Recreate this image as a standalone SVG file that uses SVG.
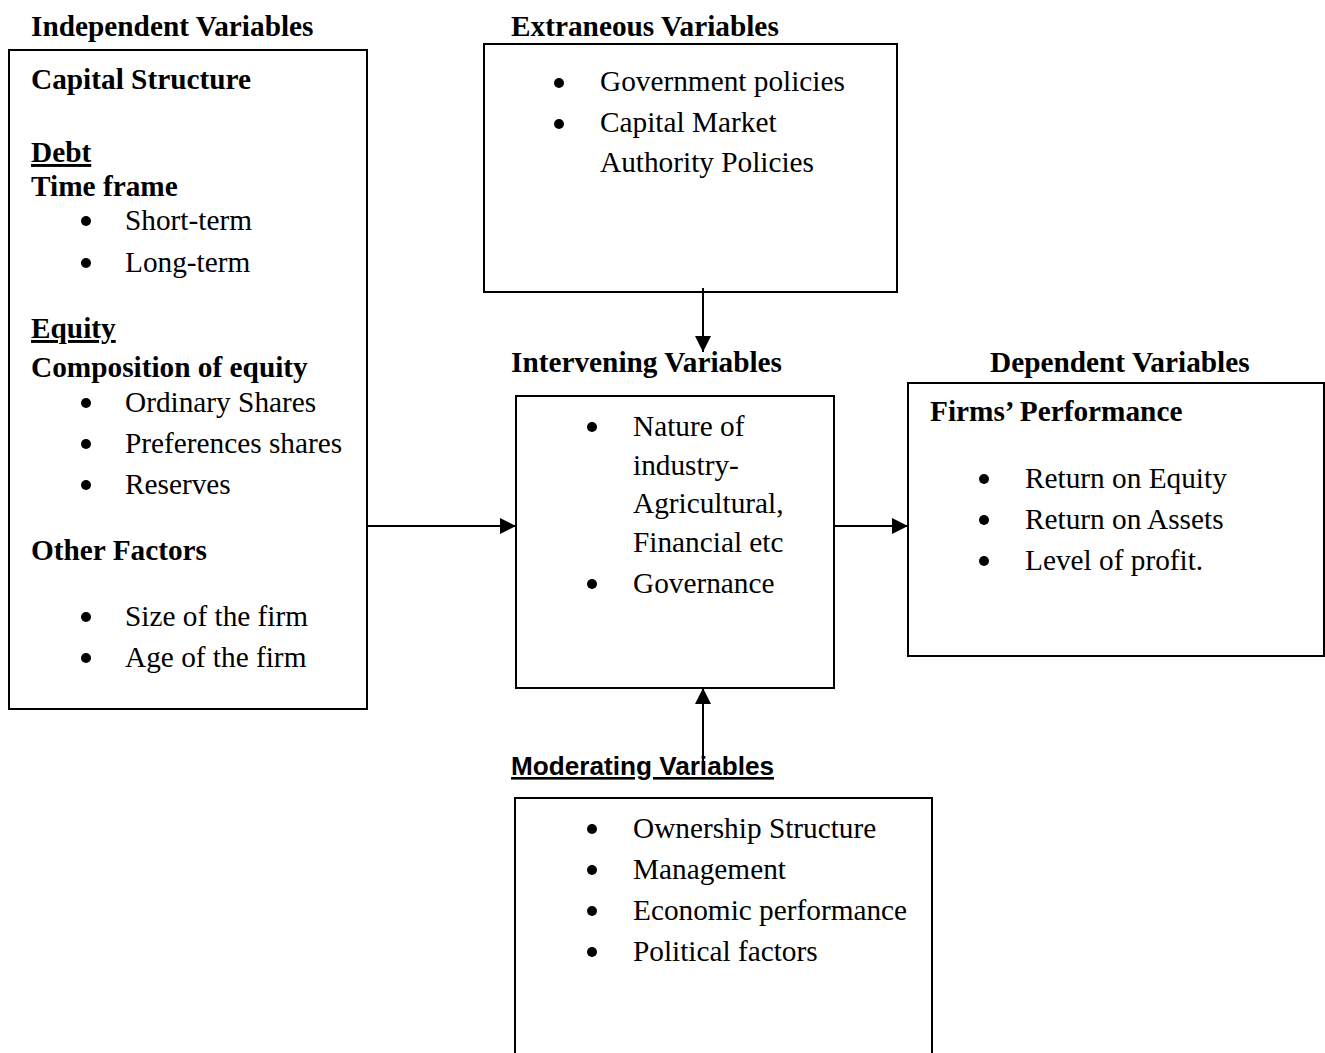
<svg xmlns="http://www.w3.org/2000/svg" width="1325" height="1053" viewBox="0 0 1325 1053">
<style>
.t{font-family:"Liberation Serif","Times New Roman",serif;font-size:29.3px;fill:#000}
.b{font-weight:bold}
.box{fill:#fff;stroke:#000;stroke-width:2}
.c{stroke:#000;stroke-width:2;fill:none}
.bul{fill:#000}
.cal{font-family:"Liberation Sans",Arial,sans-serif;font-size:26px;font-weight:bold;fill:#000}
</style>
<defs>
<marker id="ahb" markerWidth="16" markerHeight="16" refX="16" refY="8" orient="auto" markerUnits="userSpaceOnUse" viewBox="0 0 16 16">
<path d="M0,0 L16,8 L0,16 Z" fill="#000"/>
</marker>
</defs>
<rect width="1325" height="1053" fill="#fff"/>

<g id="independent">
<text class="t b" x="31" y="36">Independent Variables</text>
<rect class="box" x="9" y="50" width="358" height="659"/>
<text class="t b" x="31" y="89">Capital Structure</text>
<text class="t b" x="31" y="162" text-decoration="underline">Debt</text>
<text class="t b" x="31" y="196">Time frame</text>
<circle class="bul" cx="86" cy="221" r="5"/><text class="t" x="125" y="230">Short-term</text>
<circle class="bul" cx="86" cy="263" r="5"/><text class="t" x="125" y="272">Long-term</text>
<text class="t b" x="31" y="338" text-decoration="underline">Equity</text>
<text class="t b" x="31" y="377">Composition of equity</text>
<circle class="bul" cx="86" cy="403" r="5"/><text class="t" x="125" y="412">Ordinary Shares</text>
<circle class="bul" cx="86" cy="444" r="5"/><text class="t" x="125" y="453">Preferences shares</text>
<circle class="bul" cx="86" cy="485" r="5"/><text class="t" x="125" y="494">Reserves</text>
<text class="t b" x="31" y="560">Other Factors</text>
<circle class="bul" cx="86" cy="617" r="5"/><text class="t" x="125" y="626">Size of the firm</text>
<circle class="bul" cx="86" cy="658" r="5"/><text class="t" x="125" y="667">Age of the firm</text>
</g>

<g id="extraneous">
<text class="t b" x="511" y="36">Extraneous Variables</text>
<rect class="box" x="484" y="44" width="413" height="248"/>
<circle class="bul" cx="559" cy="83" r="5"/><text class="t" x="600" y="91">Government policies</text>
<circle class="bul" cx="559" cy="124" r="5"/><text class="t" x="600" y="132">Capital Market</text>
<text class="t" x="600" y="172">Authority Policies</text>
</g>

<g id="intervening">
<text class="t b" x="511" y="372">Intervening Variables</text>
<rect class="box" x="516" y="396" width="318" height="292"/>
<circle class="bul" cx="592" cy="427" r="5"/><text class="t" x="633" y="436">Nature of</text>
<text class="t" x="633" y="475">industry-</text>
<text class="t" x="633" y="513">Agricultural,</text>
<text class="t" x="633" y="552">Financial etc</text>
<circle class="bul" cx="592" cy="584" r="5"/><text class="t" x="633" y="593">Governance</text>
</g>

<g id="dependent">
<text class="t b" x="990" y="372">Dependent Variables</text>
<rect class="box" x="908" y="383" width="416" height="273"/>
<text class="t b" x="930" y="421">Firms’ Performance</text>
<circle class="bul" cx="984" cy="479" r="5"/><text class="t" x="1025" y="488">Return on Equity</text>
<circle class="bul" cx="984" cy="520" r="5"/><text class="t" x="1025" y="529">Return on Assets</text>
<circle class="bul" cx="984" cy="561" r="5"/><text class="t" x="1025" y="570">Level of profit.</text>
</g>

<g id="moderating">
<text class="cal" x="511" y="775" text-decoration="underline" textLength="263" lengthAdjust="spacingAndGlyphs">Moderating Variables</text>
<rect class="box" x="515" y="798" width="417" height="270"/>
<circle class="bul" cx="592" cy="829" r="5"/><text class="t" x="633" y="838">Ownership Structure</text>
<circle class="bul" cx="592" cy="870" r="5"/><text class="t" x="633" y="879">Management</text>
<circle class="bul" cx="592" cy="911" r="5"/><text class="t" x="633" y="920">Economic performance</text>
<circle class="bul" cx="592" cy="952" r="5"/><text class="t" x="633" y="961">Political factors</text>
</g>

<g id="connectors">
<line class="c" x1="367" y1="526" x2="516" y2="526" marker-end="url(#ahb)"/>
<line class="c" x1="834" y1="526" x2="908" y2="526" marker-end="url(#ahb)"/>
<line class="c" x1="703" y1="288" x2="703" y2="352" marker-end="url(#ahb)"/>
<line class="c" x1="703" y1="772" x2="703" y2="688" marker-end="url(#ahb)"/>
</g>
</svg>
